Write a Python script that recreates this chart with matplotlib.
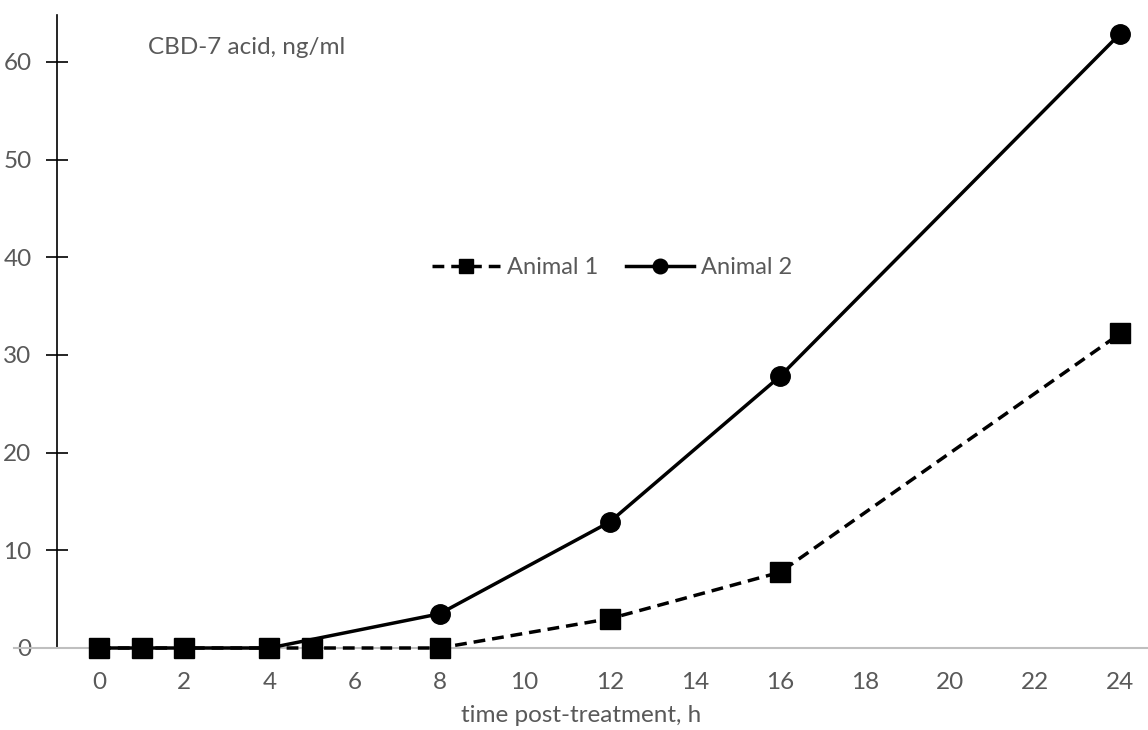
import numpy as np
import matplotlib
matplotlib.use("Agg")
import matplotlib.pyplot as plt

# data
t1 = [0, 1, 2, 4, 5, 8, 12, 16, 24]
animal1 = [0, 0, 0, 0, 0, 0, 3.0, 7.75, 32.2]
t2 = [0, 1, 2, 4, 8, 12, 16, 24]
animal2 = [0, 0, 0, 0, 3.5, 12.9, 27.8, 62.9]
xticks = list(range(0, 25, 2))
yticks = [0, 10, 20, 30, 40, 50, 60]

grey = "#595959"
fs = 17.5
plt.rcParams['font.family'] = ['Lato', 'DejaVu Sans']

fig = plt.figure(figsize=(11.48, 7.30), dpi=100)
ax = fig.add_axes([14 / 1148, 1 - 648 / 730, 1 - 14 / 1148, (648 - 15) / 730])

ax.plot(t2, animal2, color="black", lw=2.5, marker="o", ms=14,
        label="Animal 2", clip_on=False, zorder=3)
ax.plot(t1, animal1, color="black", lw=2.5, ls=(0, (3.4, 2.0)), marker="s", ms=14,
        label="Animal 1", clip_on=False, zorder=4)

ax.set_xlim(-2, 24.65)
ax.set_ylim(0, 64.8)

for s in ["top", "right"]:
    ax.spines[s].set_visible(False)
ax.spines["left"].set_position(("data", -1))
ax.spines["left"].set_color("black")
ax.spines["left"].set_linewidth(1.2)
ax.spines["bottom"].set_color("#bfbfbf")
ax.spines["bottom"].set_linewidth(1.5)

ax.set_xticks(xticks)
ax.set_yticks(yticks)
ax.tick_params(axis="x", length=0, pad=17, colors=grey, labelsize=fs)
ax.tick_params(axis="y", direction="inout", length=16, width=1.2, color="black",
               pad=10, labelcolor=grey, labelsize=fs)

ax.set_xlabel("time post-treatment, h", color=grey, fontsize=fs, labelpad=9)
ax.text(1.15, 61.5, "CBD-7 acid, ng/ml", color=grey, fontsize=fs, va="center")

h, l = ax.get_legend_handles_labels()
leg = ax.legend(h[::-1], l[::-1], loc="center", bbox_to_anchor=(598 / 1134, 1 - (268 - 15) / 633),
                ncol=2, frameon=False, handlelength=2.9, columnspacing=1.15,
                handletextpad=0.3, markerscale=0.75, fontsize=17)
for txt in leg.get_texts():
    txt.set_color(grey)

fig.savefig("out.png", dpi=100)
